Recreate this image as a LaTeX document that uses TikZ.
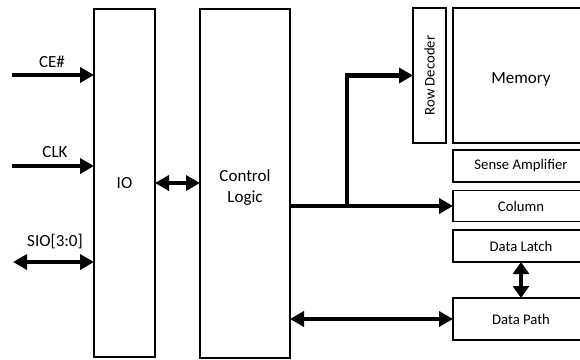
\documentclass[tikz,border=0pt]{standalone}
\usepackage{fontspec}
\setmainfont{Carlito}
\usepackage{graphicx}
\usetikzlibrary{arrows.meta}
\begin{document}
\begin{tikzpicture}[x=1pt,y=-1pt,
  box/.style={draw=black, line width=1.6pt, fill=white, inner sep=0pt, outer sep=0pt, rectangle},
  big/.style={font=\fontsize{17}{21}\selectfont},
  small/.style={font=\fontsize{14.7}{17}\selectfont},
  conn/.style={line width=4.5pt, -{Triangle[length=14pt,width=15pt]}},
  bconn/.style={line width=4.5pt, {Triangle[length=14pt,width=15pt]}-{Triangle[length=14pt,width=15pt]}},
  vconn/.style={line width=4.5pt, {Triangle[length=12pt,width=16pt]}-{Triangle[length=12pt,width=16pt]}}
]
\clip (0,0) rectangle (580,359);
\fill[white] (0,0) rectangle (580,359);

% blocks
\node[box, big, minimum width=61pt, minimum height=348pt] (io) at (124.5,183) {IO};
\node[box, big, minimum width=90pt, minimum height=349pt] (cl) at (245,183.5)
  {\raisebox{-4.5pt}[\height][\depth]{\begin{tabular}{@{}c@{}}Control\\Logic\end{tabular}}};
\node[box, small, minimum width=33pt, minimum height=135pt] (rd) at (429.5,75.5) {\rotatebox{90}{Row Decoder}};
\node[box, big, minimum width=136pt, minimum height=135pt] (mem) at (521,75.5) {\raisebox{-3.5pt}[\height][\depth]{Memory}};
\node[box, small, minimum width=136pt, minimum height=32pt] (sa) at (521,166) {Sense Amplifier};
\node[box, small, minimum width=136pt, minimum height=31pt] (col) at (521,206) {Column};
\node[box, small, minimum width=136pt, minimum height=32pt] (dl) at (521,246) {Data Latch};
\node[box, small, minimum width=136pt, minimum height=42pt] (dp) at (521,319) {Data Path};

% input labels
\node[big] (lce) at (52,62) {CE\#};
\node[big] (lclk) at (55,152) {CLK};
\node[big] (lsio) at (55,242) {SIO[3:0]};

% free ends
\coordinate (ce) at (12,75);
\coordinate (clk) at (12,166);
\coordinate (sio) at (13,262);
\coordinate (br) at (347,206);

% connectors
\draw[conn] (ce) -- (ce -| io.west);
\draw[conn] (clk) -- (clk -| io.west);
\draw[bconn] (sio) -- (sio -| io.west);
\draw[bconn] (io.east) -- (io.east -| cl.west);
\draw[conn] (cl.east |- col.west) -- (col.west);
\draw[conn] (br) |- (rd.west);
\draw[bconn] (dp.west -| cl.east) -- (dp.west);
\draw[vconn] (dl.south) -- (dp.north);
\end{tikzpicture}
\end{document}
